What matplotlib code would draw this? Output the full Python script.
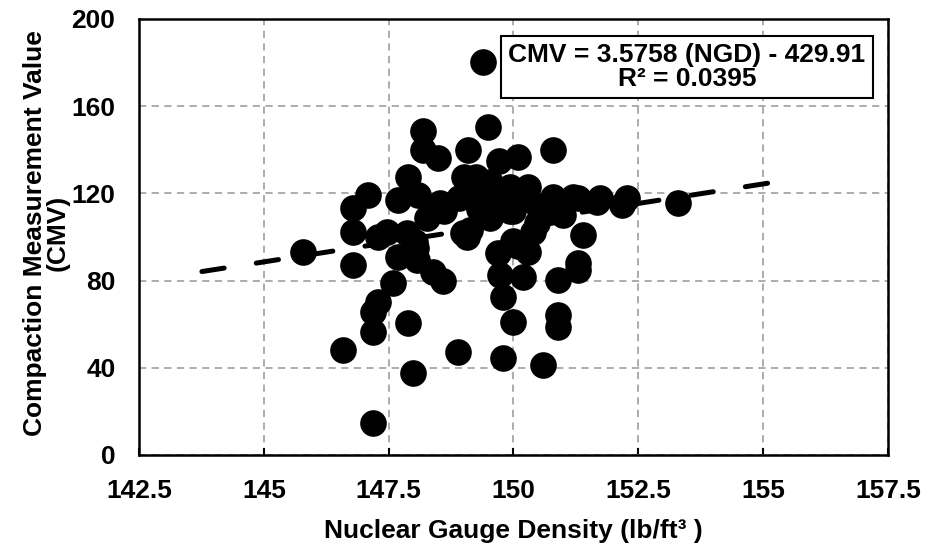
import numpy as np
import matplotlib
matplotlib.use("Agg")
import matplotlib.pyplot as plt

plt.rcParams['font.family'] = ['Liberation Sans', 'DejaVu Sans']
plt.rcParams['font.weight'] = 'bold'

# nuclear gauge density (lb/ft3) and CMV
ngd = [149.39, 149.49, 148.19, 148.19, 148.49, 149.09, 149.71, 150.09, 150.79,
       147.89, 149.00, 149.25, 147.09, 146.79, 146.79, 145.78, 146.79, 147.69,
       148.09, 148.53, 149.27, 149.53, 149.93, 150.29, 149.67, 149.79, 150.79,
       151.19, 151.29, 151.67, 151.73, 152.17, 152.27, 153.30, 150.73, 148.27,
       149.53, 150.47, 149.13, 148.99, 147.47, 147.29, 147.87, 148.03, 148.05,
       149.07, 150.39, 149.99, 151.39, 150.29, 149.69, 147.69, 148.07, 148.39,
       148.59, 147.59, 147.29, 147.19, 147.19, 146.59, 147.89, 148.89, 147.99,
       149.79, 147.19, 149.99, 149.79, 149.73, 150.19, 150.89, 151.29, 151.29,
       150.89, 150.89, 150.59, 150.10, 148.60, 149.30, 150.00, 150.50, 151.00,
       148.90, 150.10, 149.93]
cmv = [180.3, 150.3, 148.5, 139.9, 136.2, 140.0, 134.8, 136.5, 140.0,
       127.5, 127.5, 127.5, 119.3, 113.3, 102.5, 93.1, 87.0, 117.0,
       119.3, 115.8, 119.3, 125.2, 123.0, 122.8, 117.5, 118.0, 118.2,
       118.3, 118.0, 116.0, 117.9, 114.7, 118.0, 115.6, 111.5, 108.7,
       108.7, 106.4, 103.2, 101.8, 102.3, 100.0, 101.8, 97.7, 95.0,
       100.0, 102.3, 98.0, 100.8, 93.1, 92.7, 90.8, 89.4, 83.9,
       79.6, 78.9, 70.2, 65.6, 56.4, 48.2, 60.6, 47.2, 37.6,
       44.5, 14.7, 61.0, 72.5, 82.4, 81.5, 80.3, 88.0, 85.0,
       64.2, 58.9, 41.3, 96.0, 112.0, 113.0, 112.0, 114.0, 110.0,
       118.0, 117.0, 112.0]

# linear trend as printed on the chart
slope = 3.5758
intercept = -429.91
fit_x = [143.76, 155.38]

fig = plt.figure(figsize=(9.25, 5.58), dpi=100)
ax = fig.add_axes([139/925, 103/558, 749/925, 436/558])

ax.scatter(ngd, cmv, s=330, color='black', zorder=3)
fx = np.array(fit_x)
ax.plot(fx, slope*fx + intercept, color='black', lw=3.6,
        linestyle=(0, (4.5, 6.5)), dash_capstyle='round', zorder=4)

ax.set_xlim(142.5, 157.5)
ax.set_ylim(0, 200)
ax.set_xticks([142.5, 145, 147.5, 150, 152.5, 155, 157.5])
ax.set_xticklabels(['142.5', '145', '147.5', '150', '152.5', '155', '157.5'])
ax.set_yticks([0, 40, 80, 120, 160, 200])
ax.grid(True, color='#a6a6a6', linestyle=(0, (4, 3)), lw=1.3)
ax.set_axisbelow(True)
ax.tick_params(axis='x', direction='in', length=5, width=1.5, labelsize=19, pad=17)
ax.tick_params(axis='y', direction='in', length=0, labelsize=19, pad=17)
for s in ax.spines.values():
    s.set_linewidth(1.8)

ax.set_ylabel('Compaction Measurement Value\n(CMV)', fontsize=19,
              fontweight='bold', labelpad=1, linespacing=0.95)
ax.yaxis.label.set_y(0.51)
fig.text(513/925, 1 - 531/558, 'Nuclear Gauge Density (lb/ft³ )',
         ha='center', va='center', fontsize=19, fontweight='bold')

fig.text(687/925, 1 - 67/558, 'CMV = 3.5758 (NGD) - 429.91\nR² = 0.0395',
         ha='center', va='center', fontsize=19, fontweight='bold',
         linespacing=0.95,
         bbox=dict(boxstyle='square,pad=0.3', facecolor='white',
                   edgecolor='black', lw=1.5), zorder=10)

fig.savefig('out.png', dpi=100)
